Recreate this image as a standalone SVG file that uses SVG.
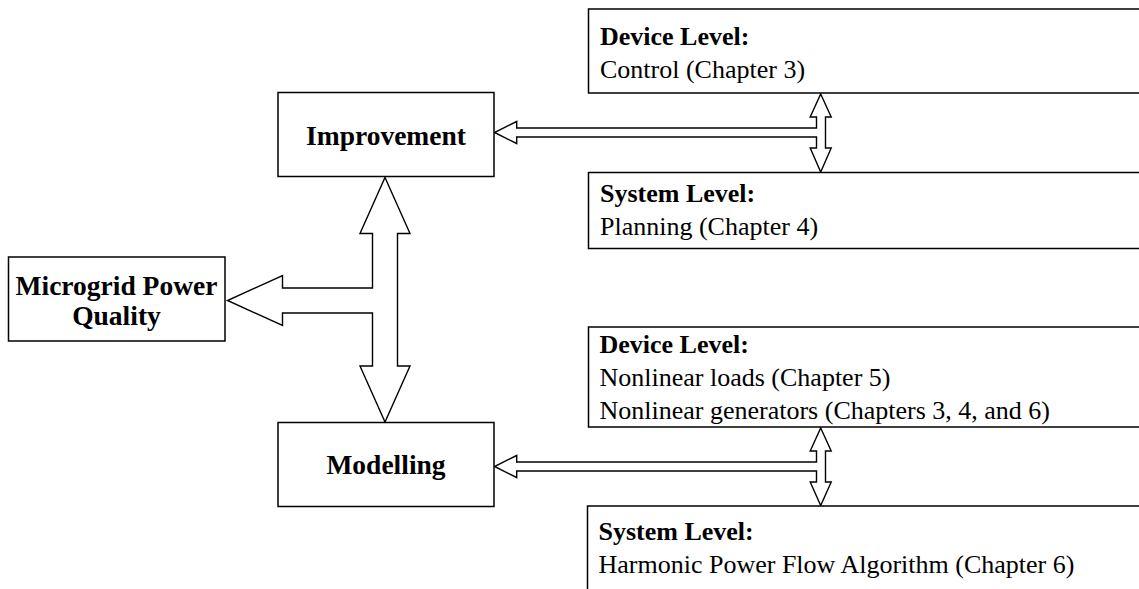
<svg xmlns="http://www.w3.org/2000/svg" width="1139" height="589" viewBox="0 0 1139 589">
<style>
.box{fill:#fff;stroke:#000;stroke-width:1.5}
.arr{fill:#fff;stroke:#000;stroke-width:1.4;stroke-linejoin:miter}
.lbl{font-family:"Liberation Serif","Times New Roman",serif;font-weight:bold;font-size:27.5px;fill:#000;text-anchor:middle}
.hd{font-family:"Liberation Serif","Times New Roman",serif;font-weight:bold;font-size:26px;fill:#000}
.tx{font-family:"Liberation Serif","Times New Roman",serif;font-size:26px;fill:#000}
</style>
<rect width="1139" height="589" fill="#fff"/>
<g id="connectors">
<polygon class="arr" points="385,177.5 410,233.5 397.5,233.5 397.5,366 410,366 385,422 360,366 372.5,366 372.5,313 282.5,313 282.5,325.5 227.5,300.5 282.5,275.5 282.5,288 372.5,288 372.5,233.5 360,233.5"/>
<polygon class="arr" points="820.7,94 831.2,117 825.5,117 825.5,148 831.2,148 820.7,172 810.2,148 816.5,148 816.5,137 516.7,137 516.7,143.5 494.5,132.5 516.7,121.5 516.7,128 816.5,128 816.5,117 810.2,117"/>
<polygon class="arr" points="820.7,428 831.2,451 825.5,451 825.5,482 831.2,482 820.7,505.5 810.2,482 816.5,482 816.5,471 516.7,471 516.7,477.5 494.5,466.5 516.7,455.5 516.7,462 816.5,462 816.5,451 810.2,451"/>
</g>
<g id="improvement">
<rect class="box" x="278" y="92.5" width="216" height="84"/>
<text class="lbl" x="386" y="145">Improvement</text>
</g>
<g id="modelling">
<rect class="box" x="278" y="422.5" width="216" height="84"/>
<text class="lbl" x="386" y="473.5">Modelling</text>
</g>
<g id="microgrid">
<rect class="box" x="8.5" y="257" width="216.5" height="84"/>
<text class="lbl" x="116.5" y="294.5">Microgrid Power</text>
<text class="lbl" x="116.5" y="325">Quality</text>
</g>
<g id="device-control">
<rect class="box" x="588.5" y="9" width="570" height="84"/>
<text class="hd" x="600" y="45">Device Level:</text>
<text class="tx" x="600" y="78">Control (Chapter 3)</text>
</g>
<g id="system-planning">
<rect class="box" x="588.5" y="172.5" width="570" height="76"/>
<text class="hd" x="600" y="202">System Level:</text>
<text class="tx" x="600" y="235">Planning (Chapter 4)</text>
</g>
<g id="device-nonlinear">
<rect class="box" x="588.5" y="327" width="570" height="100"/>
<text class="hd" x="599.5" y="353">Device Level:</text>
<text class="tx" x="599.5" y="386">Nonlinear loads (Chapter 5)</text>
<text class="tx" x="599.5" y="418.5">Nonlinear generators (Chapters 3, 4, and 6)</text>
</g>
<g id="system-harmonic">
<rect class="box" x="587.5" y="506" width="570" height="100"/>
<text class="hd" x="598.5" y="540">System Level:</text>
<text class="tx" x="598.5" y="573">Harmonic Power Flow Algorithm (Chapter 6)</text>
</g>
</svg>
